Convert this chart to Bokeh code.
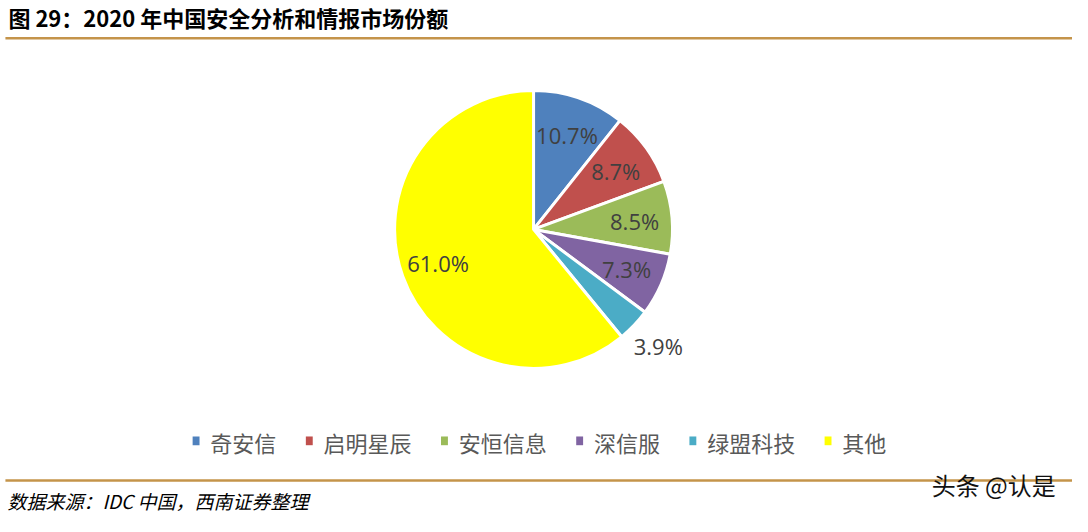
import math
from bokeh.plotting import figure
from bokeh.models import Range1d, ColumnDataSource
from bokeh.core.properties import value
from bokeh.embed import file_html
from bokeh.resources import INLINE

# ---- data ----
companies = ["奇安信", "启明星辰", "安恒信息", "深信服", "绿盟科技", "其他"]
shares = [10.7, 8.7, 8.5, 7.3, 3.9, 61.0]
colors = ["#4F81BD", "#C0504D", "#9BBB59", "#8064A2", "#4BACC6", "#FFFF00"]
label_outside = [False, False, False, False, True, False]
title_text = "图 29：2020 年中国安全分析和情报市场份额"
source_text = "数据来源：IDC 中国，西南证券整理"
watermark_text = "头条 @认是"

W, H = 1072, 516
REF_W, REF_H = 1088, 532


def Y(sy):
    # reference-picture y (top-down) -> data y (bottom-up)
    return REF_H - sy


p = figure(width=W, height=H, output_backend="svg", toolbar_location=None,
           x_range=Range1d(0, REF_W), y_range=Range1d(0, REF_H),
           min_border=0, outline_line_color=None)
p.axis.visible = False
p.grid.visible = False
p.background_fill_color = "white"
p.border_fill_color = "white"

# ---- pie ----
cx, cy, R = 541, Y(236), 141
total = sum(shares)
starts, ends, mids = [], [], []
acc = 0.0
for s in shares:
    a0 = math.pi / 2 - 2 * math.pi * acc / total
    acc += s
    a1 = math.pi / 2 - 2 * math.pi * acc / total
    starts.append(a0)
    ends.append(a1)
    mids.append((a0 + a1) / 2)

src = ColumnDataSource(dict(start=starts, end=ends, color=colors))
p.wedge(x=cx, y=cy, radius=R, start_angle="start", end_angle="end",
        direction="clock", fill_color="color", line_color="white",
        line_width=3, source=src)

lx, ly, lt = [], [], []
for s, m, out in zip(shares, mids, label_outside):
    r = R * (1.24 if out else 0.73)
    lx.append(cx + r * math.cos(m))
    ly.append(cy + r * math.sin(m))
    lt.append(f"{s:.1f}%")
p.text(x=lx, y=ly, text=lt, text_align="center", text_baseline="middle",
       text_font=value("Open Sans"), text_font_size="22px", text_color="#404040")

# ---- legend (drawn manually) ----
fs = 22
char_w = 22.3
mk_w, mk_h = 7, 9
gap_mk_text = 11
gap_item = 30
widths = [mk_w + gap_mk_text + len(c) * char_w for c in companies]
total_w = sum(widths) + gap_item * (len(companies) - 1)
x0 = 547 - total_w / 2
leg_y = Y(454)
mxs, txs = [], []
x = x0
for wdt in widths:
    mxs.append(x + mk_w / 2)
    txs.append(x + mk_w + gap_mk_text)
    x += wdt + gap_item
p.rect(x=mxs, y=[leg_y] * len(mxs), width=mk_w, height=mk_h,
       fill_color=colors, line_color=None)
p.text(x=txs, y=[Y(455)] * len(txs), text=companies, text_align="left",
       text_baseline="middle", text_font=value("Noto Sans CJK SC"),
       text_font_size=f"{fs}px", text_color="#595959")

# ---- header / footer ----
gold = "#C4944A"
p.segment(x0=[5, 5], y0=[Y(39), Y(495)], x1=[REF_W, REF_W], y1=[Y(39), Y(495)],
          line_color=gold, line_width=2.5)
p.text(x=[8], y=[Y(17)], text=[title_text], text_align="left",
       text_baseline="middle", text_font=value("Noto Sans CJK SC"),
       text_font_size="22px", text_font_style="bold", text_color="#000000")
p.text(x=[7], y=[Y(516)], text=[source_text], text_align="left",
       text_baseline="middle", text_font=value("Noto Sans CJK SC"),
       text_font_size="19px", text_font_style="italic", text_color="#000000")
p.text(x=[1071], y=[Y(499)], text=[watermark_text], text_align="right",
       text_baseline="middle", text_font=value("Noto Sans CJK SC"),
       text_font_size="24px", text_color="#111111")

open("out.html", "w").write(file_html(p, INLINE))
